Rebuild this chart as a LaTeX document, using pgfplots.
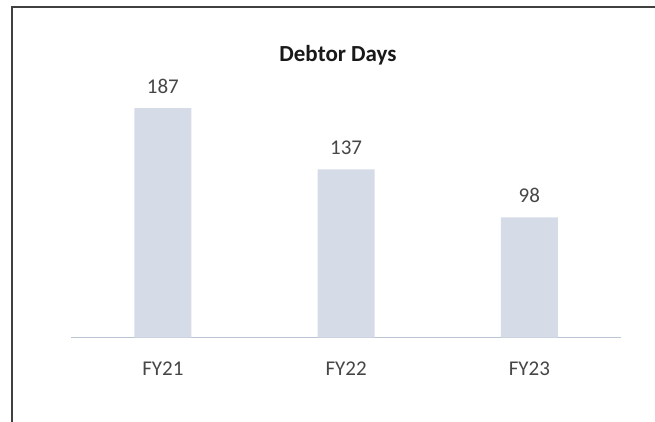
\documentclass[border=0pt]{standalone}
\usepackage{pgfplots}
\pgfplotsset{compat=1.18}
\usepackage{fontspec}
\setmainfont{Carlito}
\definecolor{barfill}{RGB}{213,219,231}
\definecolor{basecol}{RGB}{185,196,212}
\definecolor{txt}{RGB}{70,70,70}
\begin{document}
\begin{tikzpicture}[x=1pt,y=1pt]
\useasboundingbox (0,0) rectangle (655,421);
% chart frame (runs off the right and bottom edges)
\draw[line width=1.4pt, black!75] (12,-10) -- (12,414) -- (670,414);
\node[font=\bfseries\fontsize{23}{26}\selectfont, text=black!90] at (338,366) {Debtor Days};
\begin{axis}[
    at={(71.25pt,83.5pt)}, anchor=south west,
    scale only axis,
    width=549.75pt, height=245.4pt,
    xmin=-0.5, xmax=2.5, ymin=0, ymax=200,
    axis x line=bottom, axis y line=none,
    x axis line style={basecol, line width=0.9pt, -},
    xtick=data, xticklabels={FY21,FY22,FY23},
    major tick length=0pt,
    xticklabel style={font=\fontsize{21}{24}\selectfont, text=txt, yshift=-21pt},
    ybar, bar width=57pt,
    nodes near coords,
    nodes near coords style={font=\fontsize{21}{24}\selectfont, text=txt, yshift=11pt,
        /pgf/number format/assume math mode=true},
]
\addplot[fill=barfill, draw=none] coordinates {(0,187) (1,137) (2,98)};
\end{axis}
\end{tikzpicture}
\end{document}
